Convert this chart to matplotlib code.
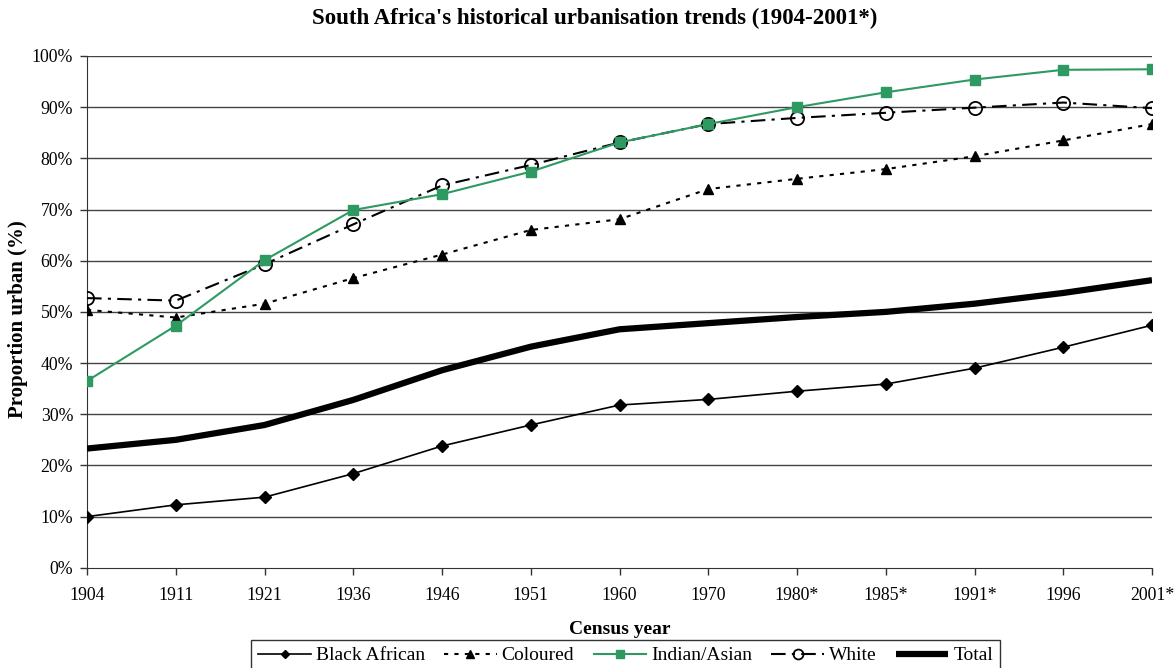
import matplotlib
matplotlib.use("Agg")
import matplotlib.pyplot as plt
from matplotlib.ticker import PercentFormatter

years = ["1904", "1911", "1921", "1936", "1946", "1951", "1960", "1970",
         "1980*", "1985*", "1991*", "1996", "2001*"]
black_african = [10.0, 12.3, 13.8, 18.4, 23.8, 27.9, 31.8, 32.9, 34.5, 35.9, 39.0, 43.1, 47.4]
coloured = [50.4, 48.9, 51.6, 56.6, 61.2, 66.0, 68.1, 74.0, 76.0, 77.9, 80.4, 83.5, 86.7]
indian_asian = [36.5, 47.3, 60.1, 69.9, 73.0, 77.4, 83.1, 86.7, 90.0, 92.9, 95.4, 97.3, 97.4]
white = [52.7, 52.2, 59.3, 67.1, 74.7, 78.7, 83.1, 86.7, 87.9, 88.9, 89.9, 90.9, 89.8]
total = [23.3, 25.0, 27.9, 32.8, 38.6, 43.2, 46.6, 47.8, 49.0, 50.0, 51.6, 53.7, 56.2]

plt.rcParams['font.family'] = ['Liberation Serif', 'DejaVu Serif']

fig = plt.figure(figsize=(11.76, 6.68), dpi=100)
ax = fig.add_axes([0.074, 0.150, 0.9056, 0.7662])

x = list(range(len(years)))
green = '#2e9960'

for v in range(10, 101, 10):
    ax.axhline(v, color='#444444', lw=1.0, zorder=1)

ax.plot(x, total, color='black', lw=4.5, solid_capstyle='butt', zorder=3, label='Total')
ax.plot(x, black_african, color='black', lw=1.2, marker='D', ms=6, zorder=4, label='Black African')
ax.plot(x, coloured, color='black', lw=1.5, linestyle=(0, (2, 3)), marker='^', ms=7.5, zorder=4, label='Coloured')
ax.plot(x, white, color='black', lw=1.5, linestyle=(0, (7, 3, 1.5, 3)), marker='o', ms=9.5,
        mfc='none', mec='black', mew=1.3, zorder=4, label='White')
ax.plot(x, indian_asian, color=green, lw=1.5, marker='s', ms=7, mec=green, zorder=5, label='Indian/Asian')

ax.set_xlim(0, len(years) - 1)
ax.set_ylim(0, 100)
ax.set_xticks(x)
ax.set_xticklabels(years)
ax.set_yticks(range(0, 101, 10))
ax.yaxis.set_major_formatter(PercentFormatter(decimals=0))
ax.tick_params(axis='both', labelsize=12.8, direction='out', length=5, width=1, color='#333333')
ax.tick_params(axis='x', pad=9)
ax.tick_params(axis='y', pad=5)

for side in ['top', 'right']:
    ax.spines[side].set_visible(False)
ax.spines['left'].set_color('#333333')
ax.spines['bottom'].set_color('#333333')

fig.text(0.506, 0.973, "South Africa's historical urbanisation trends (1904-2001*)", fontsize=16.5,
         fontweight='bold', ha='center', va='center')
ax.set_ylabel("Proportion urban (%)", fontsize=15, fontweight='bold', va='center')
ax.yaxis.set_label_coords(-0.065, 0.485)
ax.set_xlabel("Census year", fontsize=14, fontweight='bold', labelpad=12)

handles, labels = ax.get_legend_handles_labels()
order = ['Black African', 'Coloured', 'Indian/Asian', 'White', 'Total']
hmap = dict(zip(labels, handles))
leg = fig.legend([hmap[k] for k in order], order, loc='upper center', bbox_to_anchor=(0.532, 0.042),
                 ncol=5, fontsize=14, frameon=True, fancybox=False, edgecolor='black',
                 handlelength=2.7, handletextpad=0.25, columnspacing=1.0, borderpad=0.35,
                 borderaxespad=0, markerscale=0.75)
leg.get_frame().set_linewidth(1.0)

fig.savefig('out.png', dpi=100)
